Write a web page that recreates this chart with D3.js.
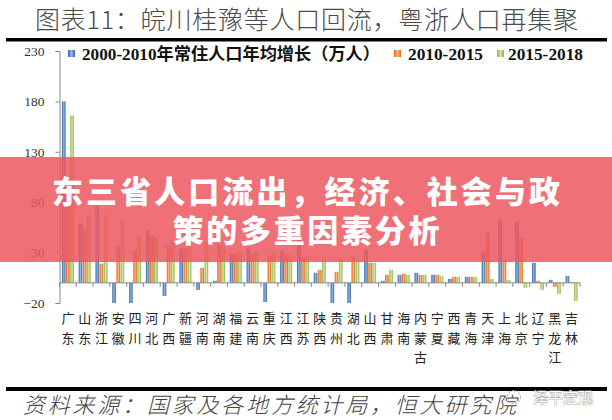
<!DOCTYPE html>
<html><head><meta charset="utf-8">
<script src="https://cdn.jsdelivr.net/npm/d3@7/dist/d3.min.js"></script>
<style>body{margin:0;background:#fff;}svg{display:block;}</style>
</head><body>
<svg id="c" width="612" height="420"></svg>
<script>
const provinces = ["广东","山东","浙江","安徽","四川","河北","广西","新疆","河南","湖南","福建","云南","重庆","江西","江苏","陕西","贵州","湖北","山西","甘肃","海南","内蒙古","宁夏","西藏","青海","天津","上海","北京","辽宁","黑龙江","吉林"];
const s2000_2010 = [180,59,77,-20,-20,52,-13,34,-7,2,29,35,-19,32,45,10,-20,-20,33,2,8,10,8,4,6,31,63,60,20,3,7];
const s2010_2015 = [82,53,19,37,33,47,37,35,15,38,29,29,27,28,26,13,11,26,20,8,9,8,8,6,6,50,23,45,2,-4,1];
const s2015_2018 = [166,67,67,61,47,45,43,41,41,40,31,31,30,28,26,25,25,21,20,13,8,8,7,6,6,4,3,-5,-7,-11,-18];
const seriesNames = ["2000-2010年常住人口年均增长（万人）","2010-2015","2015-2018"];
const yTicks = [230,180,130,80,30,-20];
const titleText = "图表11：皖川桂豫等人口回流，粤浙人口再集聚";
const bannerLines = ["东三省人口流出，经济、社会与政","策的多重因素分析"];
const sourceText = "资料来源：国家及各地方统计局，恒大研究院";
const watermark = "泽平宏观";

const svg = d3.select("#c");
const defs = svg.append("defs");
const grads = [["#36679f","#8fb4e3"],["#d8661c","#fbb77c"],["#8cb24c","#d2e8a8"]];
grads.forEach((g,i)=>{
  const lg = defs.append("linearGradient").attr("id","g"+i).attr("x1","0").attr("x2","1").attr("y1","0").attr("y2","0");
  lg.append("stop").attr("offset","0").attr("stop-color",g[0]);
  lg.append("stop").attr("offset","0.5").attr("stop-color",g[1]);
  lg.append("stop").attr("offset","1").attr("stop-color",g[0]);
});

// title
svg.append("text").attr("x",35).attr("y",29).attr("font-family","Noto Sans CJK SC").attr("font-weight",300)
  .attr("font-size",25).attr("fill","#4a4a4a").attr("textLength",543).attr("lengthAdjust","spacing").text(titleText);
svg.append("rect").attr("x",6).attr("y",38).attr("width",601).attr("height",3.5).attr("fill","#000");

const y = d3.scaleLinear().domain([-20,230]).range([303,51]);
const x = d3.scaleBand().domain(provinces).range([59.5,580]).paddingInner(0).paddingOuter(0);
const xs = d3.scaleBand().domain([0,1,2]).range([-6,6]).paddingInner(0.12);

// bars
const series = [s2000_2010,s2010_2015,s2015_2018];
series.forEach((vals,si)=>{
  svg.append("g").selectAll("rect").data(provinces).join("rect")
    .attr("x",(p)=>x(p)+x.bandwidth()/2+xs(si))
    .attr("width",xs.bandwidth())
    .attr("y",(p,i)=>y(Math.max(0,vals[i])))
    .attr("height",(p,i)=>Math.abs(y(vals[i])-y(0)))
    .attr("fill","url(#g"+si+")");
});

// y axis
const yAxis = d3.axisLeft(y).tickValues(yTicks).tickSize(4).tickPadding(11);
const yg = svg.append("g").attr("transform","translate(59.5,0)").call(yAxis);
yg.select(".domain").attr("stroke","#888");
yg.selectAll(".tick line").attr("stroke","#888");
yg.selectAll(".tick text").attr("font-family","Liberation Serif").attr("font-size",13.5).attr("fill","#333");

// x axis
const xg = svg.append("g").attr("transform",`translate(0,${y(0)})`);
xg.append("line").attr("x1",59.5).attr("x2",580).attr("stroke","#888");
xg.selectAll("line.t").data(provinces.concat(["end"])).join("line").attr("class","t")
  .attr("x1",(p,i)=>59.5+i*x.bandwidth()).attr("x2",(p,i)=>59.5+i*x.bandwidth())
  .attr("y1",0).attr("y2",4).attr("stroke","#888");
provinces.forEach(p=>{
  Array.from(p).forEach((ch,k)=>{
    svg.append("text").attr("x",x(p)+x.bandwidth()/2).attr("y",323+k*19.5)
      .attr("text-anchor","middle").attr("font-family","Noto Sans CJK SC").attr("font-size",13)
      .attr("fill","#222").text(ch);
  });
});

// legend
const legX = [[68,82,298],[394,408,75],[497,508,75]];
seriesNames.forEach((n,i)=>{
  svg.append("rect").attr("x",legX[i][0]).attr("y",50).attr("width",7).attr("height",7).attr("fill","url(#g"+i+")");
  svg.append("text").attr("x",legX[i][1]).attr("y",60).attr("font-family","Liberation Serif, Noto Sans CJK SC")
    .attr("font-weight","bold").attr("font-size",16.5).attr("fill","#111")
    .attr("textLength",legX[i][2]).attr("lengthAdjust","spacingAndGlyphs").text(n);
});

// banner
svg.append("rect").attr("x",0).attr("y",157).attr("width",612).attr("height",105).attr("fill","rgba(237,87,96,0.85)");
bannerLines.forEach((t,i)=>{
  svg.append("text").attr("x",306).attr("y",[203,242][i])
    .attr("text-anchor","middle").attr("font-family","Noto Sans CJK SC").attr("font-weight",900)
    .attr("font-size",31).attr("fill","#fff").attr("textLength",[508,267][i]).attr("lengthAdjust","spacing").text(t);
});

// footer
svg.append("rect").attr("x",6).attr("y",387).attr("width",601).attr("height",4).attr("fill","#000");
svg.append("text").attr("x",23).attr("y",413).attr("font-family","Noto Sans CJK SC").attr("font-weight",300)
  .attr("font-style","italic").attr("font-size",22).attr("fill","#444")
  .attr("textLength",493).attr("lengthAdjust","spacing").text(sourceText);
svg.append("circle").attr("cx",514).attr("cy",397).attr("r",6.5).attr("fill","none").attr("stroke","#aaa").attr("stroke-dasharray","2,1.5");
svg.append("text").attr("x",533).attr("y",403).attr("font-family","Noto Sans CJK SC").attr("font-size",15)
  .attr("fill","#fff").attr("stroke","#999").attr("stroke-width",0.8).attr("paint-order","stroke").text(watermark);
</script>
</body></html>
